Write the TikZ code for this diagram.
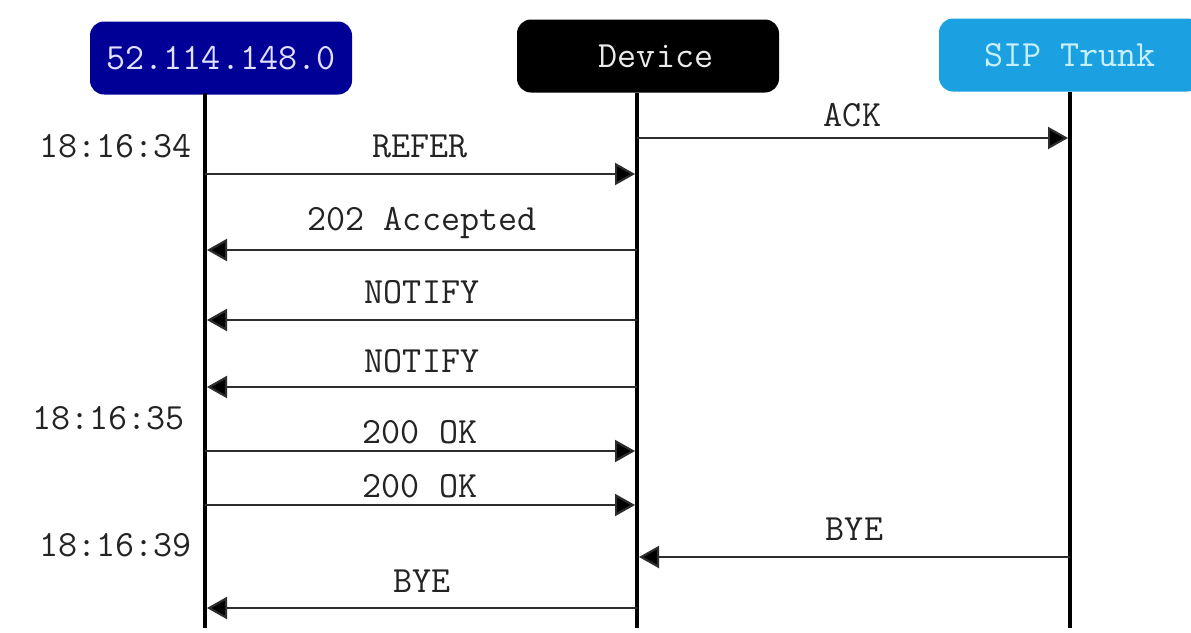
\documentclass[tikz,border=0pt]{standalone}
\usepackage{fontspec}
\usetikzlibrary{arrows.meta}
\definecolor{navybox}{RGB}{0,0,150}
\definecolor{skybox}{RGB}{27,161,226}
\definecolor{msgline}{RGB}{45,45,45}
\definecolor{lbltext}{RGB}{35,35,35}
\newcommand{\msgfont}{\ttfamily\fontsize{37}{40}\selectfont}
\begin{document}
\begin{tikzpicture}[x=1pt,y=-1pt,
  box/.style={rounded corners=14pt, minimum width=262pt, minimum height=73pt, inner sep=0pt, font=\msgfont},
  life/.style={line width=4.5pt, black},
  msg/.style={line width=2.2pt, msgline, -{Triangle[length=20pt,width=22pt,fill=black]}},
  lbl/.style={anchor=base, text=lbltext, font=\msgfont},
  ts/.style={anchor=base east, text=lbltext, font=\msgfont}]
\useasboundingbox (0,0) rectangle (1191,632);
\clip (0,0) rectangle (1191,632);
\fill[white] (0,0) rectangle (1191,632);

% participants
\node[box, fill=navybox, text={rgb,255:red,225;green,225;blue,255}] (ip) at (221,58) {52.114.148.0};
\node[box, fill=black, text={rgb,255:red,235;green,235;blue,235}, text width=262pt, align=center] (dev) at (648,56) {\hspace*{16pt}Device};
\node[box, fill=skybox, text={rgb,255:red,200;green,240;blue,250}] (sip) at (1070,55) {SIP Trunk};

% lifelines
\coordinate (ipTop) at (205,93);  \coordinate (ipBot) at (205,628);
\coordinate (devTop) at (637,93); \coordinate (devBot) at (637,628);
\coordinate (sipTop) at (1070,92); \coordinate (sipBot) at (1070,628);
\draw[life] (ipTop) -- (ipBot);
\draw[life] (devTop) -- (devBot);
\draw[life] (sipTop) -- (sipBot);

% message end points
\coordinate (d1) at (637,138);  \coordinate (s1) at (1068,138);
\coordinate (a2) at (205,174);  \coordinate (d2) at (635,174);
\coordinate (d3) at (637,250);  \coordinate (a3) at (207,250);
\coordinate (d4) at (637,320);  \coordinate (a4) at (207,320);
\coordinate (d5) at (637,387);  \coordinate (a5) at (207,387);
\coordinate (a6) at (205,451);  \coordinate (d6) at (635,451);
\coordinate (a7) at (205,505);  \coordinate (d7) at (635,505);
\coordinate (s8) at (1070,557); \coordinate (d8) at (639,557);
\coordinate (d9) at (637,608);  \coordinate (a9) at (207,608);

% messages
\draw[msg] (d1) -- (s1) node[lbl, midway, yshift=12pt] (m1) {ACK};
\draw[msg] (a2) -- (d2) node[lbl, midway, yshift=17pt] (m2) {REFER};
\draw[msg] (d3) -- (a3) node[lbl, midway, yshift=20pt] (m3) {202 Accepted};
\draw[msg] (d4) -- (a4) node[lbl, midway, yshift=17pt] (m4) {NOTIFY};
\draw[msg] (d5) -- (a5) node[lbl, midway, yshift=15pt] (m5) {NOTIFY};
\draw[msg] (a6) -- (d6) node[lbl, midway, yshift=8pt] (m6) {200 OK};
\draw[msg] (a7) -- (d7) node[lbl, midway, yshift=8pt] (m7) {200 OK};
\draw[msg] (s8) -- (d8) node[lbl, midway, yshift=17pt] (m8) {BYE};
\draw[msg] (d9) -- (a9) node[lbl, midway, yshift=16pt] (m9) {BYE};

% timestamps
\node[ts] (t1) at (195,157) {18:16:34};
\node[ts] (t2) at (188,429) {18:16:35};
\node[ts] (t3) at (195,556) {18:16:39};
\end{tikzpicture}
\end{document}
